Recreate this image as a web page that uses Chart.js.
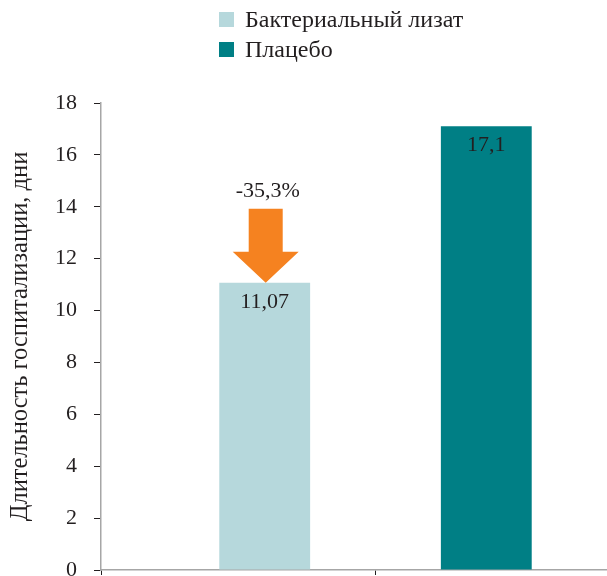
<!DOCTYPE html>
<html lang="ru">
<head>
<meta charset="utf-8">
<script src="https://cdn.jsdelivr.net/npm/chart.js@4/dist/chart.umd.min.js"></script>
<style>
    html, body { margin: 0; padding: 0; background: #fff; overflow: hidden; }
    #wrap { position: relative; width: 652px; height: 576px; }
    #legend {
        position: absolute; left: 219px; top: 4px;
        font-family: 'Liberation Serif', serif; font-size: 24px; color: #231f20;
    }
    #legend div { display: flex; align-items: center; height: 30px; }
    #legend span.box { display: inline-block; width: 15px; height: 15px; margin-right: 11px; }
</style>
</head>
<body>
<div id="wrap">
    <canvas id="chart" width="652" height="576"></canvas>
    <div id="legend"></div>
</div>
<script>
// chart data
const seriesNames = ['Бактериальный лизат', 'Плацебо'];
const seriesColors = ['#b6d8dc', '#007f85'];
const durationDays = [11.07, 17.1];
const changeLabel = '-35,3%';
const yAxisTitle = 'Длительность госпитализации, дни';
const yMin = 0, yMax = 18, yStep = 2;

const textColor = '#231f20';
const serif = 'Liberation Serif';

// one category per series; placebo dataset goes first so the lysate bar
// sits right of its category centre and the placebo bar left of its centre
const datasets = seriesNames.map((name, i) => ({
    label: name,
    data: durationDays.map((v, j) => (j === i ? v : null)),
    backgroundColor: seriesColors[i],
    seriesIndex: i,
})).reverse();

// value labels just under the top of each bar
const valueLabels = {
    id: 'valueLabels',
    afterDatasetsDraw(chart) {
        const ctx = chart.ctx;
        ctx.save();
        ctx.font = `22px '${serif}'`;
        ctx.fillStyle = textColor;
        ctx.textAlign = 'center';
        ctx.textBaseline = 'middle';
        chart.data.datasets.forEach((ds, di) => {
            chart.getDatasetMeta(di).data.forEach((bar, j) => {
                if (ds.data[j] == null) return;
                ctx.fillText(String(ds.data[j]).replace('.', ','), bar.x, bar.y + 19);
            });
        });
        ctx.restore();
    }
};

// orange arrow with the percent change above the lysate bar
const changeArrow = {
    id: 'changeArrow',
    afterDatasetsDraw(chart) {
        const di = chart.data.datasets.findIndex(ds => ds.seriesIndex === 0);
        const bar = chart.getDatasetMeta(di).data[0];
        const ctx = chart.ctx;
        const x = bar.x + 1, tip = bar.y;
        ctx.save();
        ctx.fillStyle = '#f58220';
        ctx.beginPath();
        ctx.moveTo(x - 17, tip - 74);
        ctx.lineTo(x + 17, tip - 74);
        ctx.lineTo(x + 17, tip - 31);
        ctx.lineTo(x + 33, tip - 31);
        ctx.lineTo(x, tip);
        ctx.lineTo(x - 33, tip - 31);
        ctx.lineTo(x - 17, tip - 31);
        ctx.closePath();
        ctx.fill();
        ctx.font = `22px '${serif}'`;
        ctx.fillStyle = textColor;
        ctx.textAlign = 'center';
        ctx.textBaseline = 'middle';
        ctx.fillText(changeLabel, x + 2, tip - 92);
        ctx.restore();
    }
};

const chart = new Chart(document.getElementById('chart'), {
    type: 'bar',
    data: { labels: seriesNames, datasets: datasets },
    options: {
        responsive: false,
        animation: false,
        categoryPercentage: 0.3855,
        barPercentage: 1.717,
        layout: { padding: { top: 103, right: 2, bottom: 1, left: 0 } },
        plugins: { legend: { display: false }, tooltip: { enabled: false } },
        scales: {
            x: {
                afterFit(scale) { scale.height = 5; scale.paddingLeft = 0; scale.paddingRight = 0; },
                ticks: { display: false },
                grid: { drawOnChartArea: false, offset: true, tickLength: 5, tickColor: textColor },
                border: { color: '#a6a6a6', width: 1.5 }
            },
            y: {
                min: yMin,
                max: yMax,
                afterFit(scale) { scale.width = 101; scale.paddingTop = 0; scale.paddingBottom = 0; },
                ticks: { stepSize: yStep, padding: 17, color: textColor, font: { family: serif, size: 22 } },
                grid: { drawOnChartArea: false, tickLength: 7, tickColor: textColor },
                border: { color: '#a6a6a6', width: 1.5 },
                title: {
                    display: true,
                    text: yAxisTitle,
                    color: textColor,
                    padding: { top: 6, bottom: 0 },
                    font: { family: serif, size: 24.5 }
                }
            }
        }
    },
    plugins: [valueLabels, changeArrow]
});

// legend as plain html, in series order
const legendEl = document.getElementById('legend');
seriesNames.forEach((name, i) => {
    const row = document.createElement('div');
    const box = document.createElement('span');
    box.className = 'box';
    box.style.background = seriesColors[i];
    row.appendChild(box);
    row.appendChild(document.createTextNode(name));
    legendEl.appendChild(row);
});
</script>
</body>
</html>
